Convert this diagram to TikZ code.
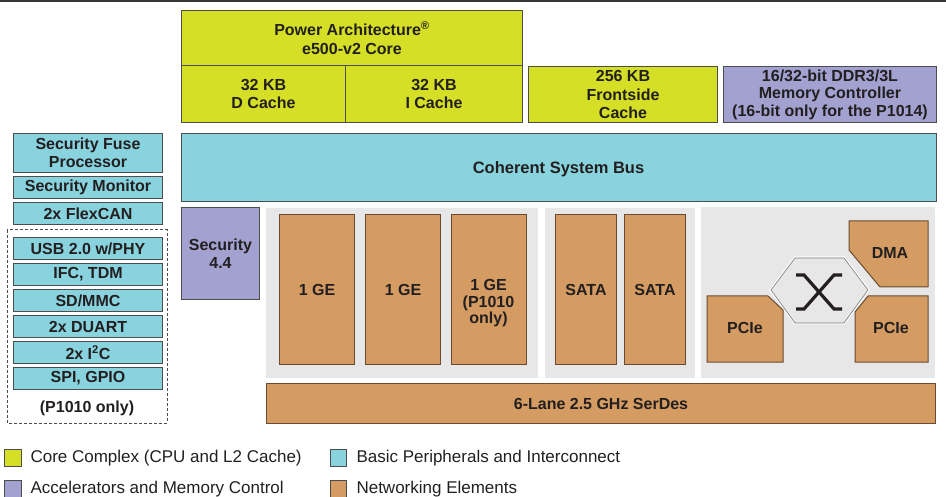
\documentclass[tikz,border=0pt]{standalone}
\usepackage{fontspec}
\setmainfont{Liberation Sans}
\usetikzlibrary{positioning}

\definecolor{ink}{HTML}{231F20}
\definecolor{edgegray}{HTML}{4D4D4D}
\definecolor{coreyellow}{HTML}{D4DF25}
\definecolor{periphcyan}{HTML}{88D3DE}
\definecolor{accelpurple}{HTML}{A2A1D0}
\definecolor{netorange}{HTML}{D49C62}
\definecolor{netbrown}{HTML}{6A4B30}
\definecolor{panelgray}{HTML}{E7E7E7}

\tikzset{
  blk/.style={draw=edgegray, line width=1pt, inner sep=0pt, anchor=north west,
    align=center, text=ink, font=\bfseries\fontsize{16}{18.5}\selectfont},
  core/.style={blk, fill=coreyellow},
  periph/.style={blk, fill=periphcyan},
  accel/.style={blk, fill=accelpurple},
  net/.style={blk, fill=netorange, draw=netbrown},
  netshape/.style={fill=netorange, draw=netbrown, line width=1pt},
  lbl/.style={text=ink, font=\bfseries\fontsize{16}{18.5}\selectfont, align=center},
  legendbox/.style={draw=edgegray, line width=1pt},
  legendtext/.style={anchor=west, text=ink, font=\fontsize{17}{19}\selectfont},
}

\begin{document}
\begin{tikzpicture}[x=1pt, y=-1pt]
        \useasboundingbox (0,0) rectangle (946,497);
        \fill[ink!90] (0,0) rectangle (946,2.5);

        % Core complex
        \node[core, minimum width=341, minimum height=55] (e500) at (181,10) {Power Architecture\textsuperscript{\textregistered}\\e500-v2 Core};
        \node[core, minimum width=164, minimum height=57] (dcache) at (181,65) {32 KB\\D Cache};
        \node[core, minimum width=177, minimum height=57] (icache) at (345,65) {32 KB\\I Cache};
        \node[core, minimum width=189, minimum height=56] (l2cache) at (528,66) {256 KB\\Frontside\\Cache};
        \node[accel, minimum width=213, minimum height=56, font=\bfseries\fontsize{16}{17.5}\selectfont] (ddr) at (723,66) {16/32-bit DDR3/3L\\Memory Controller\\(16-bit only for the P1014)};

        % Bus
        \node[periph, minimum width=755, minimum height=68] (bus) at (181,133) {};
        \node[lbl, font=\bfseries\fontsize{16.5}{18.5}\selectfont] (bustxt) at (558.5,169) {Coherent System Bus};

        % Peripherals on the left
        \node[periph, minimum width=149, minimum height=39] (fuse) at (13,133) {Security Fuse\\Processor};
        \node[periph, minimum width=149, minimum height=22] (secmon) at (13,176) {Security Monitor};
        \node[periph, minimum width=149, minimum height=22] (flexcan) at (13,202) {2x FlexCAN};
        \draw[edgegray, line width=1pt, dash pattern=on 3pt off 2pt] (7,230) rectangle (167,423);
        \node[periph, minimum width=149, minimum height=22] (usb) at (13,237) {USB 2.0 w/PHY};
        \node[periph, minimum width=149, minimum height=22] (ifc) at (13,263) {IFC, TDM};
        \node[periph, minimum width=149, minimum height=22] (sdmmc) at (13,289) {SD/MMC};
        \node[periph, minimum width=149, minimum height=22] (duart) at (13,315) {2x DUART};
        \node[periph, minimum width=149, minimum height=22] (iic) at (13,341) {2x I\textsuperscript{2}C};
        \node[periph, minimum width=149, minimum height=22] (spi) at (13,367) {SPI, GPIO};
        \node[lbl] (p1010) at (87,408) {(P1010 only)};

        % Security engine
        \node[accel, minimum width=78, minimum height=92] (sec) at (181,207) {Security\\4.4};

        % Networking panels
        \fill[panelgray] (266,208) rectangle (538,378);
        \fill[panelgray] (545,208) rectangle (695,378);
        \fill[panelgray] (701,207) rectangle (935,378);
        \node[net, minimum width=75, minimum height=150] (ge1) at (279,214) {1 GE};
        \node[net, minimum width=75, minimum height=150] (ge2) at (365,214) {1 GE};
        \node[net, minimum width=75, minimum height=150] (ge3) at (451,214) {};
        \node[lbl, anchor=north, font=\bfseries\fontsize{16}{16.5}\selectfont] (ge3txt) at (488.5,276) {1 GE\\(P1010\\only)};
        \node[net, minimum width=61, minimum height=150] (sata1) at (555,214) {SATA};
        \node[net, minimum width=61, minimum height=150] (sata2) at (624,214) {SATA};

        % Switch with DMA and PCIe
        \draw[white, line width=3pt] (771,290) -- (795,258) -- (844,258) -- (868,290) -- (844,323) -- (795,323) -- cycle;
        \draw[fill=panelgray, draw=ink!60, line width=0.6pt] (771,290) -- (795,258) -- (844,258) -- (868,290) -- (844,323) -- (795,323) -- cycle;
        \draw[ink, line width=3.2pt] (796,275) -- (804,275) -- (834,309) -- (842,309);
        \draw[ink, line width=3.2pt] (842,275) -- (834,275) -- (804,309) -- (796,309);
        \draw[netshape] (849,221) -- (928,221) -- (928,287) -- (880,287) -- (849,250) -- cycle;
        \node[lbl] (dma) at (890,253) {DMA};
        \draw[netshape] (707,296) -- (768,296) -- (783,310) -- (783,362) -- (707,362) -- cycle;
        \node[lbl] (pcie1) at (745,328) {PCIe};
        \draw[netshape] (868,296) -- (928,296) -- (928,362) -- (855,362) -- (855,312) -- cycle;
        \node[lbl] (pcie2) at (891,328) {PCIe};

        % SerDes
        \node[net, minimum width=669, minimum height=40] (serdes) at (266,383) {6-Lane 2.5 GHz SerDes};

        % Legend
        \draw[legendbox, fill=coreyellow] (4,449) rectangle (21,466);
        \node[legendtext] (lgcore) at (27,458) {Core Complex (CPU and L2 Cache)};
        \draw[legendbox, fill=periphcyan] (330,449) rectangle (346,466);
        \node[legendtext] (lgperiph) at (353,458) {Basic Peripherals and Interconnect};
        \draw[legendbox, fill=accelpurple] (4,480) rectangle (21,500);
        \node[legendtext] (lgaccel) at (27,489) {Accelerators and Memory Control};
        \draw[legendbox, fill=netorange] (330,480) rectangle (346,500);
        \node[legendtext] (lgnet) at (353,489) {Networking Elements};
    \end{tikzpicture}
\end{document}
